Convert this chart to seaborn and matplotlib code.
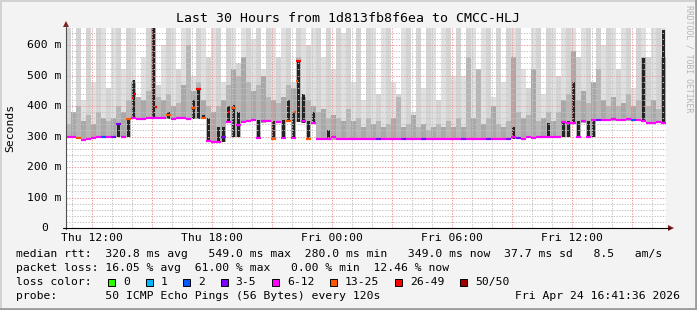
import matplotlib
matplotlib.use("Agg")
import matplotlib.pyplot as plt
from matplotlib.lines import Line2D
from matplotlib.patches import Rectangle, Polygon
import seaborn as sns
import numpy as np
import pandas as pd

# ---------------- data ----------------
start_time = "2026-04-23 10:41:36"      # 30 h window, 15-minute columns
n_cols = 120

median_ms = [
    297, 297, 296, 290, 291, 296, 297, 297, 297, 298,
    340, 300, 356, 360, 358, 357, 360, 362, 360, 362,
    372, 357, 362, 360, 358, 395, 455, 362, 285, 282,
    283, 300, 348, 392, 338, 348, 352, 355, 296, 350,
    352, 293, 348, 296, 352, 296, 549, 350, 293, 346,
    293, 293, 292, 300, 291, 291, 292, 291, 291, 292,
    291, 292, 291, 291, 292, 291, 291, 292, 291, 291,
    292, 291, 291, 291, 292, 291, 291, 291, 292, 291,
    291, 292, 291, 291, 291, 292, 291, 291, 292, 298,
    296, 293, 297, 294, 298, 300, 300, 300, 300, 348,
    346, 345, 300, 350, 300, 354, 355, 355, 355, 356,
    355, 355, 356, 355, 355, 352, 346, 344, 347, 344,
]

loss_class = [
    4, 4, 5, 4, 4, 4, 4, 2, 4, 3,
    3, 4, 5, 4, 4, 4, 4, 4, 4, 4,
    5, 4, 4, 4, 4, 5, 6, 5, 4, 4,
    4, 3, 4, 5, 4, 4, 4, 4, 4, 4,
    4, 5, 4, 4, 5, 4, 6, 4, 5, 4,
    4, 4, 4, 4, 4, 4, 4, 4, 4, 4,
    4, 4, 3, 4, 4, 4, 4, 3, 4, 4,
    4, 3, 4, 4, 4, 4, 4, 4, 4, 3,
    4, 4, 4, 4, 3, 4, 4, 4, 3, 4,
    3, 4, 4, 4, 4, 4, 4, 4, 4, 4,
    4, 4, 4, 4, 4, 4, 3, 4, 4, 4,
    4, 4, 4, 2, 4, 4, 4, 4, 4, 4,
]

smoke_lo = [
    294, 294, 293, 287, 288, 293, 294, 294, 294, 295,
    300, 297, 300, 356, 354, 353, 356, 358, 356, 358,
    356, 353, 358, 356, 354, 356, 356, 356, 283, 279,
    280, 283, 344, 300, 300, 344, 348, 351, 296, 346,
    348, 293, 344, 296, 348, 296, 348, 346, 293, 342,
    290, 290, 289, 289, 288, 288, 289, 288, 288, 289,
    288, 289, 288, 288, 289, 288, 288, 289, 288, 288,
    289, 288, 288, 288, 289, 288, 288, 288, 289, 288,
    288, 289, 288, 288, 288, 289, 288, 288, 289, 291,
    293, 290, 294, 291, 295, 297, 297, 297, 297, 300,
    300, 342, 300, 346, 300, 300, 351, 351, 351, 352,
    351, 351, 352, 351, 351, 348, 342, 340, 343, 340,
]

smoke_dark = [
    294, 294, 293, 287, 288, 293, 294, 294, 294, 295,
    345, 297, 362, 485, 354, 353, 356, 700, 356, 358,
    380, 353, 358, 356, 354, 420, 460, 370, 362, 279,
    330, 330, 400, 405, 380, 344, 348, 351, 355, 346,
    348, 350, 344, 355, 420, 380, 549, 440, 350, 380,
    290, 290, 320, 289, 288, 288, 289, 288, 288, 289,
    288, 289, 288, 288, 289, 288, 288, 289, 288, 288,
    289, 288, 288, 288, 289, 288, 288, 288, 289, 288,
    288, 289, 288, 288, 288, 289, 288, 288, 289, 330,
    293, 290, 294, 291, 295, 297, 345, 297, 297, 350,
    350, 480, 350, 346, 350, 355, 351, 351, 351, 352,
    351, 351, 352, 351, 351, 556, 342, 340, 343, 650,
]

smoke_mid = [
    340, 380, 400, 350, 370, 340, 380, 360, 350, 360,
    400, 380, 420, 480, 430, 420, 450, 700, 430, 420,
    440, 400, 410, 470, 600, 450, 480, 420, 400, 380,
    400, 420, 470, 520, 500, 560, 480, 450, 470, 500,
    430, 420, 410, 430, 470, 460, 560, 430, 420, 400,
    380, 390, 360, 370, 360, 350, 390, 350, 360, 330,
    360, 340, 350, 330, 340, 360, 430, 330, 340, 370,
    330, 340, 320, 330, 340, 330, 350, 330, 360, 330,
    560, 360, 520, 340, 360, 400, 340, 330, 350, 560,
    380, 360, 370, 520, 350, 360, 380, 350, 380, 420,
    440, 580, 420, 450, 410, 480, 520, 420, 400, 430,
    400, 410, 440, 400, 420, 560, 400, 420, 390, 560,
]

smoke_hi = [
    700, 380, 700, 420, 700, 480, 700, 700, 460, 700,
    700, 520, 700, 700, 430, 560, 700, 700, 470, 600,
    700, 700, 520, 700, 700, 500, 700, 700, 560, 700,
    700, 480, 700, 700, 540, 700, 700, 620, 700, 520,
    700, 700, 560, 700, 700, 480, 700, 700, 600, 700,
    700, 560, 700, 520, 700, 640, 700, 480, 700, 420,
    700, 700, 440, 700, 700, 480, 440, 700, 700, 380,
    700, 460, 700, 700, 420, 700, 700, 500, 700, 500,
    700, 700, 420, 700, 700, 430, 700, 480, 700, 700,
    700, 520, 460, 700, 700, 440, 700, 700, 500, 700,
    700, 700, 560, 700, 700, 480, 700, 600, 700, 700,
    520, 700, 700, 460, 700, 700, 560, 700, 700, 700,
]

# isolated sub-column median samples (hours since Thu 00:00, ms, loss class)
spike_hours = [14.05, 14.15, 15.19, 18.85, 22.15, 22.25]
spike_ms = [425, 438, 396, 381, 381, 482]
spike_class = [6, 6, 6, 6, 5, 5]

loss_labels = ["0", "1", "2", "3-5", "6-12", "13-25", "26-49", "50/50"]
loss_colors = ["#26ff00", "#00b8ff", "#0059ff", "#7e00ff",
               "#ff00ff", "#ff5500", "#ff0000", "#a10000"]

y_ticks = [0, 100, 200, 300, 400, 500, 600]
y_tick_labels = ["0", "100 m", "200 m", "300 m", "400 m", "500 m", "600 m"]
x_label_hours = [12, 18, 24, 30, 36]
x_labels = ["Thu 12:00", "Thu 18:00", "Fri 00:00", "Fri 06:00", "Fri 12:00"]

title = "Last 30 Hours from 1d813fb8f6ea to CMCC-HLJ"
legend_lines = [
    "median rtt:  320.8 ms avg   549.0 ms max  280.0 ms min   349.0 ms now  37.7 ms sd   8.5   am/s",
    "packet loss: 16.05 % avg  61.00 % max   0.00 % min  12.46 % now",
    None,
    "probe:       50 ICMP Echo Pings (56 Bytes) every 120s",
]
stamp = "Fri Apr 24 16:41:36 2026"

# ---------------- figure ----------------
sns.set_theme(style="white")
plt.rcParams["font.family"] = ["DejaVu Sans Mono"]

W, H = 697, 310
fig = plt.figure(figsize=(W / 100, H / 100), dpi=100, facecolor="#f3f3f3")

def fx(px):
    return px / W

def fy(py):
    return 1 - py / H

ax = fig.add_axes([fx(66), fy(228), 600 / W, 200 / H])
ax.set_facecolor("white")

ts = pd.date_range(start_time, periods=n_cols, freq="15min")
t0 = pd.Timestamp("2026-04-23 00:00:00")
hours = ((ts - t0) / pd.Timedelta(hours=1)).to_numpy()
step = 0.25

med = np.array(median_ms, float)
lo = np.array(smoke_lo, float)
dk = np.array(smoke_dark, float)
md = np.array(smoke_mid, float)
hi = np.array(smoke_hi, float)

centers = hours + step / 2
shade = ["#d4d4d4" if i % 2 == 0 else "#e0e0e0" for i in range(n_cols)]
ax.bar(centers, hi - lo, bottom=lo, width=step * 0.86, align="center",
       color=shade, linewidth=0, zorder=1)
mshade = ["#b6b6b6" if i % 2 == 0 else "#a8a8a8" for i in range(n_cols)]
ax.bar(centers, md - lo, bottom=lo, width=step, align="center",
       color=mshade, linewidth=0, zorder=1.1)
ax.bar(centers, dk - lo, bottom=lo, width=step * 0.42, align="center",
       color="#232323", linewidth=0, zorder=1.2)

# median line, one short segment per sample, coloured by loss class
rows = []
for i in range(n_cols):
    c = "c%d" % loss_class[i]
    rows.append({"x": hours[i], "v": med[i], "cls": c, "seg": i})
    rows.append({"x": hours[i] + step, "v": med[i], "cls": c, "seg": i})
for j in range(len(spike_hours)):
    c = "c%d" % spike_class[j]
    rows.append({"x": spike_hours[j] - 0.05, "v": spike_ms[j], "cls": c, "seg": 1000 + j})
    rows.append({"x": spike_hours[j] + 0.05, "v": spike_ms[j], "cls": c, "seg": 1000 + j})
seg_df = pd.DataFrame(rows)
pal = {"c%d" % k: loss_colors[k] for k in range(len(loss_colors))}
sns.lineplot(data=seg_df, x="x", y="v", hue="cls", units="seg", estimator=None,
             palette=pal, legend=False, sort=False, linewidth=1.6, ax=ax,
             zorder=3, solid_capstyle="butt")
ax.set_xlabel("")
ax.set_ylabel("")

x0, x1 = hours[0], hours[0] + n_cols * step
ax.set_xlim(x0, x1)
ax.set_ylim(0, 656)

# grid
ax.set_xticks(np.arange(12, 41, 3))
ax.set_xticks(np.arange(11, 41, 1), minor=True)
ax.set_yticks(y_ticks)
ax.set_yticks(np.arange(20, 656, 20), minor=True)
ax.grid(which="minor", color="#c4c4c4", linewidth=0.7, linestyle=(0, (1.4, 1.4)))
ax.grid(which="major", color="#eb9a9a", linewidth=0.7, linestyle=(0, (1.4, 1.4)))
ax.set_axisbelow(False)
ax.tick_params(axis="x", which="major", length=2.5, color="#e08080", width=0.7,
               labelbottom=False)
ax.tick_params(axis="x", which="minor", length=0)
ax.tick_params(axis="y", which="major", length=2.5, color="#404040", width=0.7,
               labelleft=False)
ax.tick_params(axis="y", which="minor", length=0)
for s in ax.spines.values():
    s.set_visible(False)

# axis lines and arrows (figure pixels)
fig.add_artist(Line2D([fx(66), fx(66)], [fy(229), fy(25)], color="#505050", lw=0.8))
fig.add_artist(Line2D([fx(63), fx(670)], [fy(228), fy(228)], color="#000000", lw=0.8))
fig.add_artist(Polygon([[fx(63), fy(27)], [fx(69), fy(27)], [fx(66), fy(21)]],
                       closed=True, color="#8b1a1a", lw=0))
fig.add_artist(Polygon([[fx(668), fy(225)], [fx(668), fy(231)], [fx(674), fy(228)]],
                       closed=True, color="#8b1a1a", lw=0))

FS = 8.2
ytr = ax.get_yaxis_transform()
for v, lab in zip(y_ticks, y_tick_labels):
    xo = -0.0305 if lab == "0" else -0.0075
    ax.text(xo, v, lab, transform=ytr, ha="right", va="center",
            fontsize=FS, color="#000000")
xtr = ax.get_xaxis_transform()
for h, lab in zip(x_label_hours, x_labels):
    ax.text(h, -0.052, lab, transform=xtr, ha="center", va="center",
            fontsize=FS, color="#000000")

fig.text(fx(10), fy(127.5), "Seconds", rotation=90, ha="center", va="center",
         fontsize=FS, color="#000000")
fig.text(fx(347.5), fy(19), title, ha="center", va="center", fontsize=9.5,
         color="#000000")
fig.text(fx(688.5), fy(5), "RRDTOOL / TOBI OETIKER", rotation=-90, ha="center",
         va="top", fontsize=5.9, color="#b4b4b4")

# legend
line_y = [254.3, 268.3, 282.3, 296.2]
for s, yy in zip(legend_lines, line_y):
    if s is not None:
        fig.text(fx(16), fy(yy), s, ha="left", va="center", fontsize=FS,
                 color="#000000")
fig.text(fx(16), fy(line_y[2]), "loss color:", ha="left", va="center",
         fontsize=FS, color="#000000")
cw = 6.88
xpos = 16 + 13.4 * cw
for lab, col in zip(loss_labels, loss_colors):
    fig.add_artist(Rectangle((fx(xpos), fy(line_y[2] + 3.5)), 7 / W, 7 / H,
                             facecolor=col, edgecolor="#000000", lw=0.7))
    fig.text(fx(xpos + 15), fy(line_y[2]), lab, ha="left", va="center",
             fontsize=FS, color="#000000")
    xpos += (len(lab) + 4.45) * cw
fig.text(fx(680), fy(line_y[3]), stamp, ha="right", va="center", fontsize=FS,
         color="#000000")

# frame
fig.add_artist(Line2D([0, 1], [fy(0.7), fy(0.7)], color="#d2d2d2", lw=1.4))
fig.add_artist(Line2D([fx(0.7), fx(0.7)], [0, 1], color="#d2d2d2", lw=1.4))
fig.add_artist(Line2D([0, 1], [fy(H - 1.2), fy(H - 1.2)], color="#9c9c9c", lw=2))
fig.add_artist(Line2D([fx(W - 1.2), fx(W - 1.2)], [0, 1], color="#9c9c9c", lw=2))

fig.savefig("out.png", dpi=100, facecolor=fig.get_facecolor())
